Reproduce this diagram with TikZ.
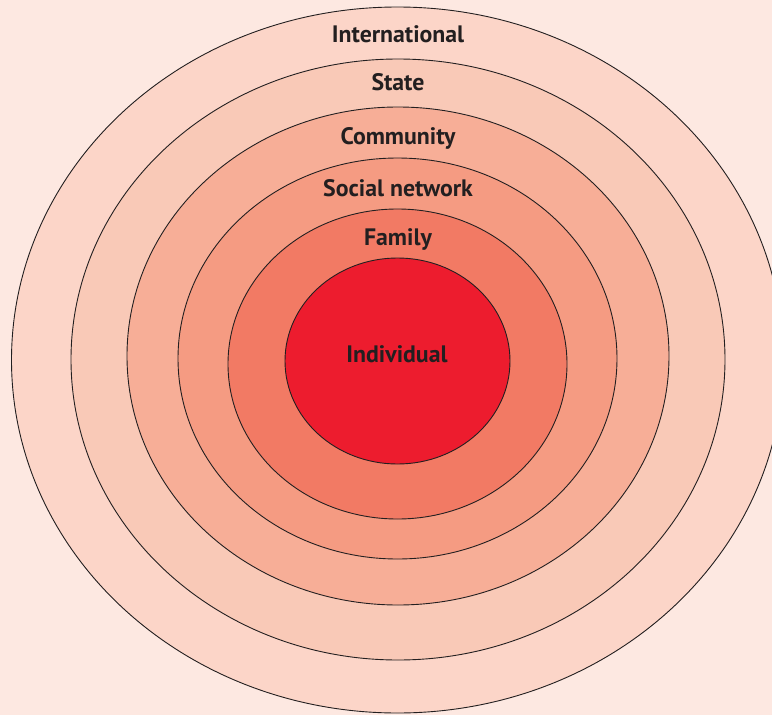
\documentclass[tikz,border=0pt]{standalone}
\usepackage{fontspec}
\setmainfont{PT Sans}
\usepackage{xcolor}
\usepackage{tikz}
\definecolor{bgpink}{RGB}{253,232,225}
\definecolor{intlfill}{RGB}{252,213,200}
\definecolor{statefill}{RGB}{249,201,183}
\definecolor{commfill}{RGB}{247,174,151}
\definecolor{socialfill}{RGB}{245,155,130}
\definecolor{familyfill}{RGB}{242,122,100}
\definecolor{indivfill}{RGB}{237,28,46}
\definecolor{inkgray}{RGB}{35,31,32}

\begin{document}
\begin{tikzpicture}[x=1pt,y=-1pt,
    ring/.style={draw=inkgray,line width=0.9pt},
    lab/.style={font=\bfseries\fontsize{23.8}{26}\selectfont,text=inkgray,anchor=base,inner sep=0pt}]
    \useasboundingbox (0,0) rectangle (772,715);
    \clip (0,0) rectangle (772,715);
    \fill[bgpink] (0,0) rectangle (772,715);

    % Rings, outside in
    \filldraw[ring,fill=intlfill] (397.5,360) ellipse [x radius=386pt, y radius=353pt];
    \filldraw[ring,fill=statefill] (398,359.5) ellipse [x radius=327pt, y radius=300.5pt];
    \filldraw[ring,fill=commfill] (398,356) ellipse [x radius=271pt, y radius=249pt];
    \filldraw[ring,fill=socialfill] (397.5,358.5) ellipse [x radius=219.5pt, y radius=200.5pt];
    \filldraw[ring,fill=familyfill] (397.5,364) ellipse [x radius=169.5pt, y radius=155pt];
    \filldraw[ring,fill=indivfill] (397.5,361) ellipse [x radius=112.5pt, y radius=103pt];

    % Labels
    \node[lab] (intl) at (398,42.5) {International};
    \node[lab] (state) at (398,90.5) {State};
    \node[lab] (comm) at (398,144) {Community};
    \node[lab] (social) at (398,196) {Social network};
    \node[lab] (family) at (398,245) {Family};
    \node[lab] (indiv) at (397,362) {Individual};
\end{tikzpicture}
\end{document}
